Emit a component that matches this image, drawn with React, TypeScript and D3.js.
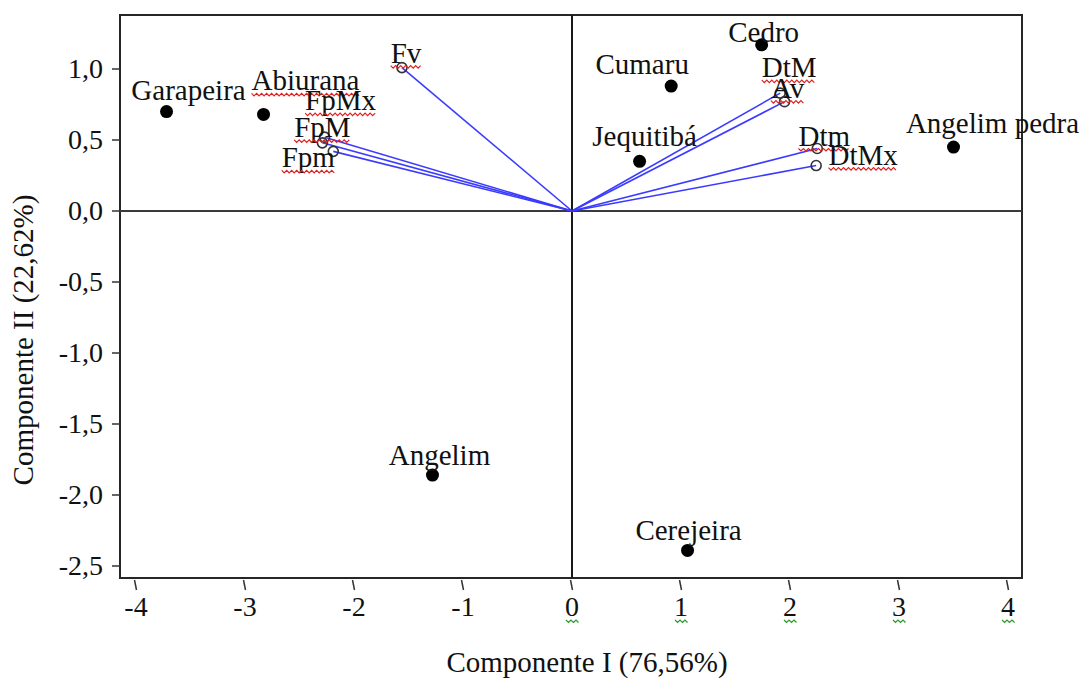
import React, { useEffect, useRef } from 'react';
import * as d3 from 'd3';

// ---- data ----
const speciesNames = ['Garapeira', 'Abiurana', 'Cumaru', 'Cedro', 'Jequitibá', 'Angelim pedra', 'Angelim', 'Cerejeira'];
const speciesPC1 = [-3.72, -2.83, 0.91, 1.74, 0.62, 3.5, -1.28, 1.06];
const speciesPC2 = [0.7, 0.68, 0.88, 1.17, 0.35, 0.45, -1.86, -2.39];
const variableNames = ['Fv', 'FpMx', 'FpM', 'Fpm', 'DtM', 'Av', 'Dtm', 'DtMx'];
const variablePC1 = [-1.56, -2.27, -2.29, -2.19, 1.91, 1.95, 2.25, 2.24];
const variablePC2 = [1.01, 0.52, 0.48, 0.42, 0.83, 0.77, 0.44, 0.32];
const xTicks = [-4, -3, -2, -1, 0, 1, 2, 3, 4];
const yTicks = [1.0, 0.5, 0.0, -0.5, -1.0, -1.5, -2.0, -2.5];
const xTitle = 'Componente I (76,56%)';
const yTitle = 'Componente II (22,62%)';
const squiggledSpecies = ['Abiurana'];
const greenSquiggleTicks = [0, 1, 2, 3, 4];

// ---- layout (pixels) ----
const speciesLabelOffsets = [[22, -12], [42, -24], [-29, -12], [2, -3], [5, -15], [39, -14], [7, -10], [1, -10]];
const variableLabelOffsets = [[4, -5], [16, -27], [0, -6], [-25, 16], [9, -16], [3, -4], [7, -3], [47, -1]];
const W = 1084, H = 679;
const frame = { left: 120, right: 1022, top: 15, bottom: 578 };
const FONT = '"Liberation Serif", "Times New Roman", serif';

function squigglePath(x1: number, x2: number, y: number) {
  const pts: [number, number][] = [];
  let i = 0;
  for (let x = x1; x <= x2; x += 2.5, i++) pts.push([x, y + (i % 2 ? 2.5 : 0)]);
  return d3.line()(pts) || '';
}

export default function App() {
  const ref = useRef<SVGSVGElement>(null);
  useEffect(() => {
    const svg = d3.select(ref.current);
    svg.selectAll('*').remove();
    const x = d3.scaleLinear().domain([-4, 4]).range([136, 1008]);
    const y = d3.scaleLinear().domain([-2.5, 1]).range([566, 69]);
    svg.append('rect').attr('width', W).attr('height', H).attr('fill', '#fff');

    // frame
    svg.append('rect')
      .attr('x', frame.left).attr('y', frame.top)
      .attr('width', frame.right - frame.left).attr('height', frame.bottom - frame.top)
      .attr('fill', 'none').attr('stroke', '#262626').attr('stroke-width', 2);

    // zero lines
    svg.append('line').attr('x1', frame.left).attr('x2', frame.right)
      .attr('y1', y(0)).attr('y2', y(0)).attr('stroke', '#3a3a3a').attr('stroke-width', 2);
    svg.append('line').attr('x1', x(0)).attr('x2', x(0))
      .attr('y1', frame.top).attr('y2', frame.bottom).attr('stroke', '#1a1a1a').attr('stroke-width', 2);

    // y axis ticks
    const fmt = (v: number) => d3.format('.1f')(v).replace('.', ',').replace('−', '-');
    yTicks.forEach(v => {
      svg.append('line').attr('x1', frame.left - 8).attr('x2', frame.left)
        .attr('y1', y(v)).attr('y2', y(v)).attr('stroke', '#333').attr('stroke-width', 1.5);
      svg.append('text').attr('x', frame.left - 17).attr('y', y(v) + 9)
        .attr('text-anchor', 'end').attr('font-family', FONT).attr('font-size', 28)
        .attr('fill', '#111').text(fmt(v));
    });
    // x axis ticks
    xTicks.forEach(v => {
      svg.append('line').attr('x1', x(v) - 1.5).attr('x2', x(v) + 0.5)
        .attr('y1', frame.bottom + 2).attr('y2', frame.bottom + 12)
        .attr('stroke', '#333').attr('stroke-width', 1.5);
      svg.append('text').attr('x', x(v)).attr('y', 616)
        .attr('text-anchor', 'middle').attr('font-family', FONT).attr('font-size', 28)
        .attr('fill', '#111').text(String(v));
    });
    greenSquiggleTicks.forEach(v => {
      svg.append('path').attr('d', squigglePath(x(v) - 6, x(v) + 7, 620))
        .attr('fill', 'none').attr('stroke', '#2a9a2a').attr('stroke-width', 1.2);
    });

    // axis titles
    svg.append('text').attr('x', 587).attr('y', 672).attr('text-anchor', 'middle')
      .attr('font-family', FONT).attr('font-size', 29).attr('fill', '#111').text(xTitle);
    svg.append('text').attr('transform', 'translate(33,340) rotate(-90)').attr('text-anchor', 'middle')
      .attr('font-family', FONT).attr('font-size', 29).attr('fill', '#111').text(yTitle);

    // vectors
    variableNames.forEach((_, i) => {
      svg.append('line').attr('x1', x(0)).attr('y1', y(0))
        .attr('x2', x(variablePC1[i])).attr('y2', y(variablePC2[i]))
        .attr('stroke', '#3b3bff').attr('stroke-width', 1.6);
    });
    variableNames.forEach((_, i) => {
      svg.append('circle').attr('cx', x(variablePC1[i])).attr('cy', y(variablePC2[i])).attr('r', 5)
        .attr('fill', 'none').attr('stroke', '#333').attr('stroke-width', 1.6);
    });

    // species points
    speciesNames.forEach((_, i) => {
      svg.append('circle').attr('cx', x(speciesPC1[i])).attr('cy', y(speciesPC2[i])).attr('r', 6.5)
        .attr('fill', '#000');
    });

    const addLabel = (txt: string, lx: number, ly: number, squiggle: boolean) => {
      const t = svg.append('text').attr('x', lx).attr('y', ly).attr('text-anchor', 'middle')
        .attr('font-family', FONT).attr('font-size', 29).attr('fill', '#111').text(txt);
      if (squiggle) {
        const node = t.node() as SVGTextElement;
        const w = node.getComputedTextLength();
        svg.append('path').attr('d', squigglePath(lx - w / 2, lx + w / 2, ly + 3))
          .attr('fill', 'none').attr('stroke', '#e02020').attr('stroke-width', 1.2);
      }
    };

    speciesNames.forEach((name, i) => {
      const [dx, dy] = speciesLabelOffsets[i];
      addLabel(name, x(speciesPC1[i]) + dx, y(speciesPC2[i]) + dy, squiggledSpecies.includes(name));
    });
    variableNames.forEach((name, i) => {
      const [dx, dy] = variableLabelOffsets[i];
      addLabel(name, x(variablePC1[i]) + dx, y(variablePC2[i]) + dy, true);
    });
  }, []);
  return (
    <svg ref={ref} width={W} height={H} style={{ position: 'absolute', left: 0, top: 0, display: 'block' }} />
  );
}
